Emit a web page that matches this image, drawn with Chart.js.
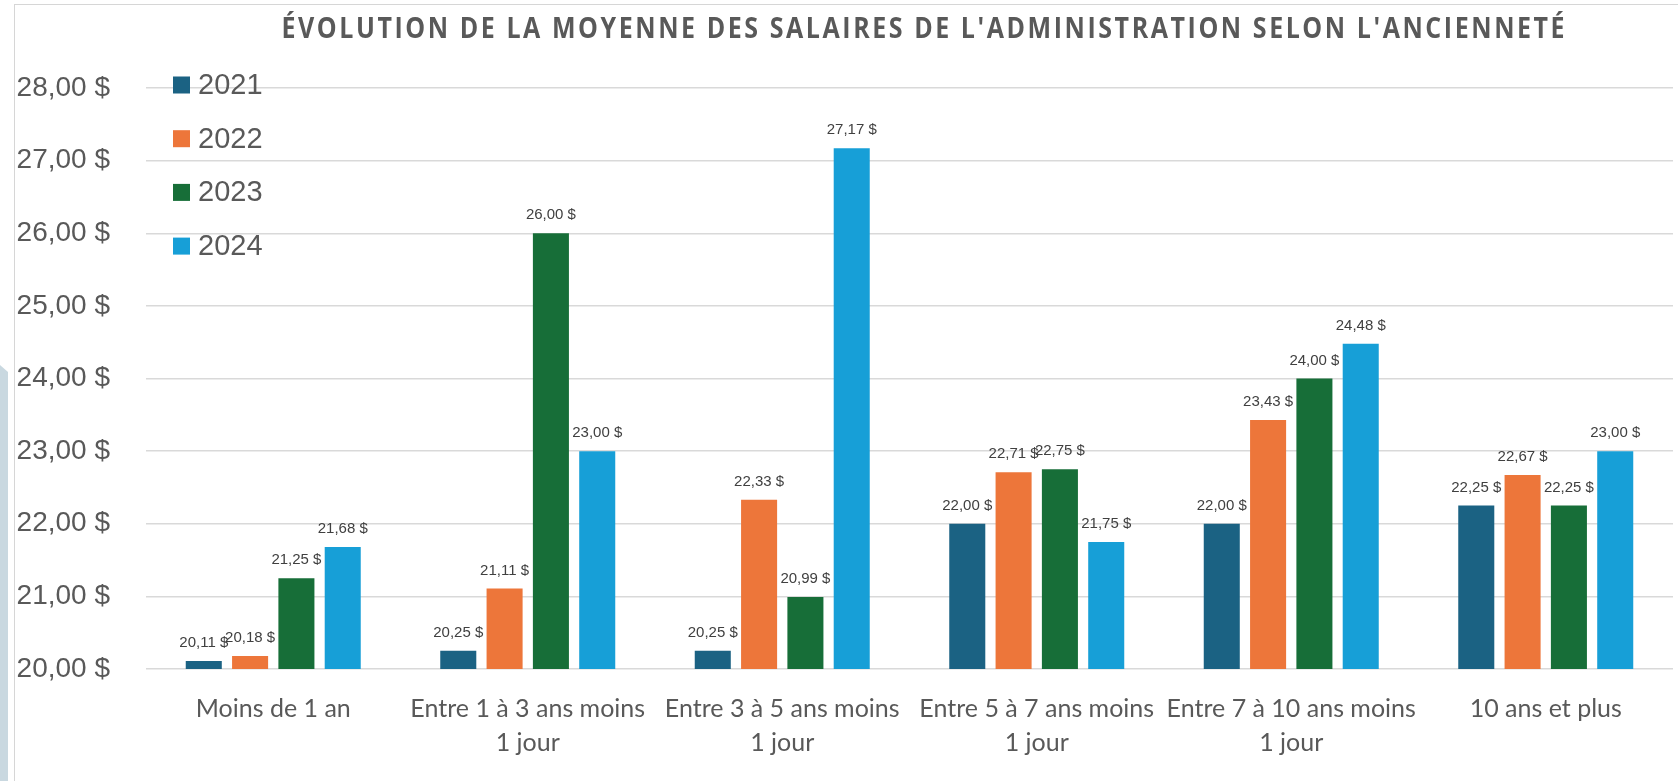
<!DOCTYPE html>
<html>
<head>
<meta charset="utf-8">
<title>Évolution de la moyenne des salaires</title>
<script src="https://cdn.jsdelivr.net/npm/chart.js@4.4.1/dist/chart.umd.min.js"></script>
<style>
    html, body { margin: 0; padding: 0; background: #fff; overflow: hidden; }
    #wrap { position: relative; width: 1678px; height: 781px; }
    #frame { position: absolute; left: 14px; top: 4px; width: 1700px; height: 820px; border: 1px solid #d6d6d6; }
    #strip { position: absolute; left: 0; top: 365px; width: 8px; height: 416px; background: #c9d8e0;
             clip-path: polygon(0 0, 100% 7px, 100% 100%, 0 100%); }
    canvas { position: absolute; left: 0; top: 0; }
</style>
</head>
<body>
<div id="wrap">
    <div id="frame"></div>
    <div id="strip"></div>
    <canvas id="barChart" width="1678" height="781"></canvas>
</div>
<script>
// categories (ancienneté)
var categories = [
    'Moins de 1 an',
    ['Entre 1 à 3 ans moins', '1 jour'],
    ['Entre 3 à 5 ans moins', '1 jour'],
    ['Entre 5 à 7 ans moins', '1 jour'],
    ['Entre 7 à 10 ans moins', '1 jour'],
    '10 ans et plus'
];
var years = ['2021', '2022', '2023', '2024'];

// average salary per year ($/h)
var salaires2021 = [20.11, 20.25, 20.25, 22.00, 22.00, 22.25];
var salaires2022 = [20.18, 21.11, 22.33, 22.71, 23.43, 22.67];
var salaires2023 = [21.25, 26.00, 20.99, 22.75, 24.00, 22.25];
var salaires2024 = [21.68, 23.00, 27.17, 21.75, 24.48, 23.00];

var yTickMin = 20;
var yTickMax = 28;

var chartTitle = "ÉVOLUTION DE LA MOYENNE DES SALAIRES DE L'ADMINISTRATION SELON L'ANCIENNETÉ";

var seriesColors = ['#1b6283', '#ed763a', '#176e38', '#179fd7'];

function formatDollar(v) {
    return v.toFixed(2).replace('.', ',') + ' $';
}

document.addEventListener('DOMContentLoaded', function () {
    var ctx = document.getElementById('barChart').getContext('2d');

    // title drawn by hand so we can letter-space it
    var titlePlugin = {
        id: 'spacedTitle',
        afterDraw: function (chart) {
            var c = chart.ctx;
            c.save();
            c.font = '700 25px "Open Sans"';
            c.fillStyle = '#595959';
            c.textBaseline = 'middle';
            c.textAlign = 'left';
            var plain = c.measureText(chartTitle).width;
            var target = 1283;
            var spacing = Math.max(0, (target - plain) / (chartTitle.length - 1));
            c.letterSpacing = spacing.toFixed(2) + 'px';
            // the original is a bit taller than wide
            c.translate(923 - target / 2, 30);
            c.scale(1, 1.12);
            c.fillText(chartTitle, 0, 0);
            c.restore();
        }
    };

    // legend overlaid at top-left of the plot
    var legendPlugin = {
        id: 'overlayLegend',
        afterDraw: function (chart) {
            var c = chart.ctx;
            c.save();
            c.font = '29px "Liberation Sans"';
            c.textBaseline = 'middle';
            c.textAlign = 'left';
            chart.data.datasets.forEach(function (ds, i) {
                var cy = 85 + i * 53.7;
                c.fillStyle = ds.backgroundColor;
                c.fillRect(173, cy - 8.5, 17, 17);
                c.fillStyle = '#595959';
                c.fillText(ds.label, 198, cy + 1);
            });
            c.restore();
        }
    };

    // value labels above each bar
    var valueLabels = {
        id: 'valueLabels',
        afterDatasetsDraw: function (chart) {
            var c = chart.ctx;
            c.save();
            c.font = '15px "Liberation Sans"';
            c.fillStyle = '#404040';
            c.textAlign = 'center';
            c.textBaseline = 'middle';
            chart.data.datasets.forEach(function (ds, i) {
                var meta = chart.getDatasetMeta(i);
                meta.data.forEach(function (bar, j) {
                    c.fillText(formatDollar(ds.data[j]), bar.x, bar.y - 18);
                });
            });
            c.restore();
        }
    };

    var allSeries = [salaires2021, salaires2022, salaires2023, salaires2024];
    var datasets = years.map(function (year, i) {
        return {
            label: year,
            data: allSeries[i],
            backgroundColor: seriesColors[i],
            borderWidth: 0,
            categoryPercentage: 0.728,
            barPercentage: 0.778
        };
    });

    var chart = new Chart(ctx, {
        type: 'bar',
        data: {
            labels: categories,
            datasets: datasets
        },
        options: {
            responsive: false,
            animation: false,
            layout: {
                padding: { top: 88, left: 17, right: 5, bottom: 0 }
            },
            plugins: {
                legend: { display: false },
                title: { display: false },
                tooltip: { enabled: false }
            },
            scales: {
                x: {
                    grid: { display: false },
                    border: { display: false },
                    afterFit: function (scale) {
                        scale.height = 112;
                    },
                    ticks: {
                        color: '#595959',
                        padding: 15,
                        maxRotation: 0,
                        autoSkip: false,
                        font: { family: 'Lato', size: 25, lineHeight: 1.36 }
                    }
                },
                y: {
                    min: yTickMin,
                    max: yTickMax,
                    border: { display: false },
                    grid: { color: '#d9d9d9', lineWidth: 1.5, drawTicks: false },
                    afterFit: function (scale) {
                        scale.width = 129;
                    },
                    ticks: {
                        stepSize: 1,
                        padding: 36,
                        color: '#595959',
                        font: { family: 'Liberation Sans', size: 28 },
                        callback: function (value) {
                            return formatDollar(value);
                        }
                    }
                }
            }
        },
        plugins: [valueLabels, legendPlugin, titlePlugin]
    });
});
</script>
</body>
</html>
